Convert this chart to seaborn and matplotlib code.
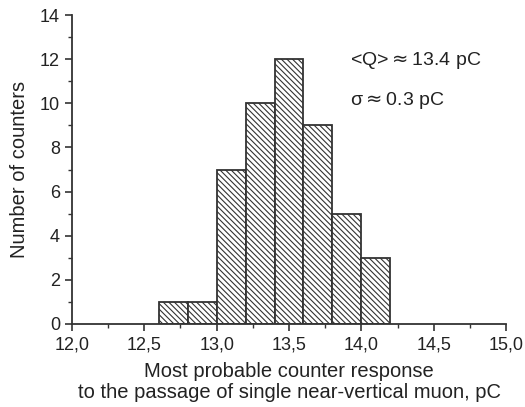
import matplotlib
matplotlib.use("Agg")
import matplotlib.pyplot as plt
import seaborn as sns
import numpy as np
from matplotlib.ticker import MultipleLocator, FuncFormatter

bin_edges = [12.6, 12.8, 13.0, 13.2, 13.4, 13.6, 13.8, 14.0, 14.2]
counts = [1, 1, 7, 10, 12, 9, 5, 3]
x_ticks = [12.0, 12.5, 13.0, 13.5, 14.0, 14.5, 15.0]
y_ticks = [0, 2, 4, 6, 8, 10, 12, 14]

sns.set_style("ticks")
plt.rcParams['font.family'] = ['Liberation Sans', 'DejaVu Sans']
plt.rcParams['mathtext.fontset'] = 'dejavusans'
plt.rcParams['hatch.linewidth'] = 0.8
plt.rcParams['hatch.color'] = '#7a7a7a'

fig = plt.figure(figsize=(5.25, 4.07), dpi=100)
ax = fig.add_axes([0.137, 0.204, 0.827, 0.759])

centers = [(bin_edges[i] + bin_edges[i + 1]) / 2 for i in range(len(counts))]
sns.histplot(x=centers, weights=counts, bins=bin_edges, ax=ax,
             color='white', edgecolor='#333333', linewidth=1.3,
             hatch='\\' * 6, alpha=1)

ax.set_xlim(12.0, 15.0)
ax.set_ylim(0, 14)
ax.set_xticks(x_ticks)
ax.set_yticks(y_ticks)
ax.xaxis.set_minor_locator(MultipleLocator(0.25))
ax.yaxis.set_minor_locator(MultipleLocator(1))
ax.xaxis.set_major_formatter(FuncFormatter(lambda v, p: f"{v:.1f}".replace('.', ',')))
ax.tick_params(axis='both', which='major', length=5, width=1.2, color='#333333',
               labelsize=13, labelcolor='#222222', direction='out')
ax.tick_params(axis='x', which='major', pad=4)
ax.tick_params(axis='both', which='minor', length=3, width=1.0, color='#333333', direction='out')

for s in ['top', 'right']:
    ax.spines[s].set_visible(False)
for s in ['left', 'bottom']:
    ax.spines[s].set_color('#333333')
    ax.spines[s].set_linewidth(1.3)

ax.set_xlabel("Most probable counter response\nto the passage of single near-vertical muon, pC",
              fontsize=14.5, color='#222222', labelpad=6, linespacing=1.15)
ax.set_ylabel("Number of counters", fontsize=14.5, color='#222222', labelpad=8)

ax.text(13.92, 11.95, r"<Q>${\approx}$13.4 pC", fontsize=14, color='#222222', va='center', ha='left')
ax.text(13.92, 10.15, "\u03c3" + r"${\approx}$0.3 pC", fontsize=14, color='#222222', va='center', ha='left')

fig.savefig("out.png", dpi=100)
